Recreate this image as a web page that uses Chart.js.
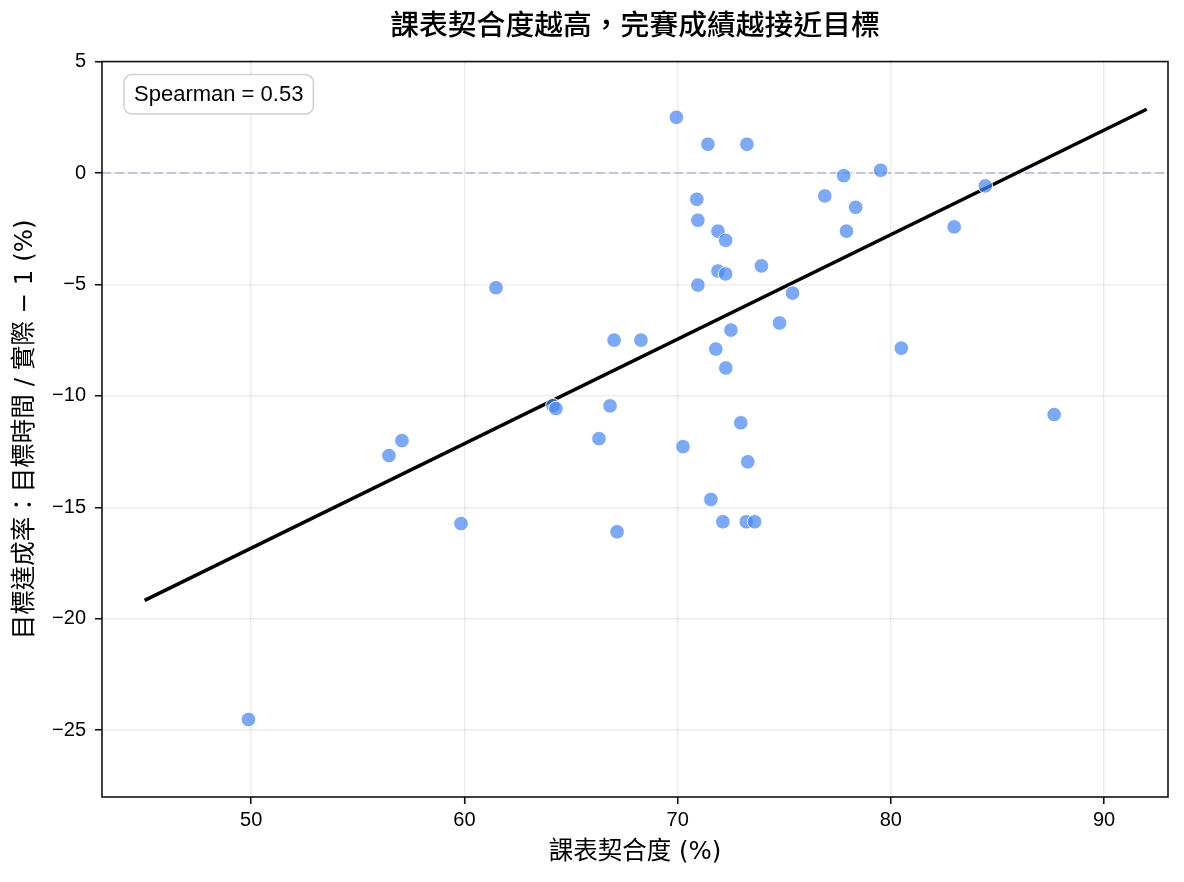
<!DOCTYPE html>
<html>
<head>
<meta charset="utf-8">
<script src="https://cdn.jsdelivr.net/npm/chart.js@4/dist/chart.umd.min.js"></script>
<style>
  html, body { margin: 0; padding: 0; background: #fff; }
  #wrap { width: 1184px; height: 882px; }
</style>
</head>
<body>
<div id="wrap"><canvas id="c" width="1184" height="882"></canvas></div>
<script>
const titleText = '課表契合度越高，完賽成績越接近目標';
const xLabel = '課表契合度 (%)';
const yLabel = '目標達成率：目標時間 / 實際 − 1 (%)';
const annotationText = 'Spearman = 0.53';

const fitX = [69.94, 71.42, 73.25, 79.52, 77.79, 84.43, 76.90, 78.35, 70.90, 70.95,
              82.97, 71.89, 77.92, 72.25, 73.93, 71.89, 72.25, 70.95, 61.48, 75.39,
              74.78, 72.50, 67.02, 68.28, 71.79, 80.49, 72.26, 64.15, 64.29, 66.83,
              87.66, 72.96, 66.31, 57.07, 70.25, 56.46, 73.29, 71.56, 59.84, 72.12,
              73.22, 73.61, 67.16, 49.87];
const achieveY = [2.50, 1.29, 1.29, 0.12, -0.12, -0.58, -1.03, -1.54, -1.18, -2.12,
                  -2.42, -2.61, -2.61, -3.02, -4.17, -4.40, -4.53, -5.03, -5.15, -5.39,
                  -6.73, -7.05, -7.50, -7.50, -7.90, -7.86, -8.75, -10.44, -10.57, -10.45,
                  -10.84, -11.21, -11.92, -12.01, -12.28, -12.68, -12.96, -14.65, -15.73, -15.65,
                  -15.65, -15.65, -16.10, -24.52];

const trendX = [45, 92];
const trendY = [-19.18, 2.86];

const zeroLineX = [43, 93];
const zeroLineY = [0, 0];

const xTicks = [50, 60, 70, 80, 90];
const yTicks = [5, 0, -5, -10, -15, -20, -25];
const xRange = [43, 93];
const yRange = [-28, 5];

const LATIN = "'Liberation Sans', Arial, sans-serif";
const MIXED = "'Liberation Sans', 'Noto Sans CJK TC', sans-serif";
const LABELF = "'DejaVu Sans', 'Noto Sans CJK TC', sans-serif";

const fmt = v => (v < 0 ? '\u2212' + Math.abs(v) : String(v));

const framePlugin = {
  id: 'frame',
  afterDatasetsDraw(chart) {
    const { ctx, chartArea: a } = chart;
    ctx.save();
    ctx.font = '22px ' + LATIN;
    const tw = ctx.measureText(annotationText).width;
    const bx = a.left + 22, by = a.top + 13, bh = 39.5, bw = tw + 20, r = 8;
    ctx.beginPath();
    ctx.roundRect(bx, by, bw, bh, r);
    ctx.fillStyle = 'rgba(255,255,255,0.85)';
    ctx.fill();
    ctx.lineWidth = 1.5;
    ctx.strokeStyle = '#cfcfcf';
    ctx.stroke();
    ctx.fillStyle = '#000';
    ctx.textBaseline = 'middle';
    ctx.textAlign = 'left';
    ctx.fillText(annotationText, bx + 10, by + bh / 2 + 1);
    ctx.restore();
  },
  afterDraw(chart) {
    const { ctx, chartArea: a } = chart;
    ctx.save();
    ctx.lineWidth = 1.6;
    ctx.strokeStyle = '#111';
    ctx.strokeRect(a.left, a.top, a.right - a.left, a.bottom - a.top);
    ctx.restore();
  }
};

new Chart(document.getElementById('c'), {
  data: {
    datasets: [
      {
        type: 'scatter',
        data: fitX.map((x, i) => ({ x, y: achieveY[i] })),
        backgroundColor: 'rgba(70,133,240,0.7)',
        borderColor: 'rgba(255,255,255,0.9)',
        borderWidth: 1,
        pointRadius: 7.3,
        order: 1
      },
      {
        type: 'line',
        data: trendX.map((x, i) => ({ x, y: trendY[i] })),
        borderColor: '#000',
        borderWidth: 3.5,
        pointRadius: 0,
        fill: false,
        order: 2
      },
      {
        type: 'line',
        data: zeroLineX.map((x, i) => ({ x, y: zeroLineY[i] })),
        borderColor: 'rgba(130,130,200,0.55)',
        borderWidth: 1.6,
        borderDash: [9, 4],
        pointRadius: 0,
        fill: false,
        order: 3
      }
    ]
  },
  options: {
    responsive: false,
    animation: false,
    layout: { padding: { top: 0, right: 16, bottom: 0, left: 0 }, autoPadding: false },
    plugins: {
      legend: { display: false },
      tooltip: { enabled: false },
      title: {
        display: true,
        text: titleText,
        fullSize: false,
        color: '#000',
        font: { size: 28.8, weight: 500, family: MIXED },
        padding: { top: 9.5, bottom: 17.5 }
      }
    },
    scales: {
      x: {
        type: 'linear',
        min: xRange[0],
        max: xRange[1],
        afterBuildTicks: ax => { ax.ticks = xTicks.map(v => ({ value: v })); },
        afterFit: ax => { ax.height = 85; },
        ticks: { color: '#000', font: { size: 20, family: LATIN }, padding: 4, callback: fmt },
        grid: { color: 'rgba(0,0,0,0.07)', lineWidth: 1.5, tickLength: 7, tickColor: '#111', tickWidth: 1.6 },
        border: { display: false },
        title: {
          display: true, text: xLabel, color: '#000',
          font: { size: 24.5, family: LABELF },
          padding: { top: 0, bottom: 14.3 }
        }
      },
      y: {
        type: 'linear',
        min: yRange[0],
        max: yRange[1],
        afterBuildTicks: ax => { ax.ticks = yTicks.map(v => ({ value: v })); },
        afterFit: ax => { ax.width = 102; },
        ticks: { color: '#000', font: { size: 20, family: LATIN }, padding: 9, callback: fmt },
        grid: { color: 'rgba(0,0,0,0.07)', lineWidth: 1.5, tickLength: 7, tickColor: '#111', tickWidth: 1.6 },
        border: { display: false },
        title: {
          display: true, text: yLabel, color: '#000',
          font: { size: 24.5, family: LABELF },
          padding: { top: 11, bottom: 0 }
        }
      }
    }
  },
  plugins: [framePlugin]
});
</script>
</body>
</html>
